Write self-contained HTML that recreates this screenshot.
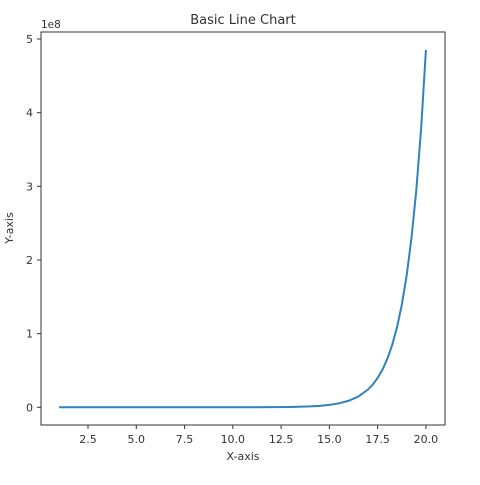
<!DOCTYPE html>
<html><head><meta charset="utf-8"><style>
body{margin:0;background:#fff;font-family:"Liberation Sans","DejaVu Sans",sans-serif}
text{font-family:"DejaVu Sans","Liberation Sans",sans-serif;fill:#333}
</style></head><body>
<svg width="480" height="480">
<text x="243" y="24" font-size="13" text-anchor="middle">Basic Line Chart</text>
<g id="ticks"></g>
<path id="line" fill="none" stroke="#2f82bf" stroke-width="2"/>
<rect x="41" y="32" width="404" height="393" fill="none" stroke="#333" stroke-width="1"/>
<text x="41" y="28" font-size="10.5">1e8</text>
<text x="243" y="460" font-size="11" text-anchor="middle">X-axis</text>
<text transform="translate(13,228) rotate(-90)" font-size="11" text-anchor="middle">Y-axis</text>
</svg>
<script>
const xValues=[1,2,3,4,5,6,7,8,9,10,11,12,13,14,14.5,15,15.5,16,16.5,17,17.25,17.5,17.75,18,18.25,18.5,18.75,19,19.25,19.5,19.75,20];
const yValues=[2.7,7.4,20,55,148,403,1097,2981,8103,22026,59874,162755,442413,1202604,1982759,3269017,5389698,8886111,14650719,24154953,31015351,39824784,51136310,65659969,84309104,108254988,139002155,178482301,229174159,294267566,377847541,485165195];
const xTicks=[2.5,5,7.5,10,12.5,15,17.5,20];
const xTickLabels=["2.5","5.0","7.5","10.0","12.5","15.0","17.5","20.0"];
const yTicks=[0,1,2,3,4,5];
const yTickLabels=["0","1","2","3","4","5"];
const sx=v=>88+(v-2.5)*19.31;
const sy=v=>407.3-v/1e8*73.66;
const NS="http://www.w3.org/2000/svg";
const g=document.getElementById('ticks');
xTicks.forEach((t,i)=>{
 const l=document.createElementNS(NS,'line');
 l.setAttribute('x1',sx(t));l.setAttribute('x2',sx(t));l.setAttribute('y1',425);l.setAttribute('y2',429);l.setAttribute('stroke','#333');
 
 
 g.appendChild(l);
 const tx=document.createElementNS(NS,'text');
 tx.setAttribute('x',sx(t));tx.setAttribute('y',443);tx.setAttribute('font-size','11');tx.setAttribute('text-anchor','middle');
 tx.textContent=xTickLabels[i];
 
 
 g.appendChild(tx);
});
yTicks.forEach((t,i)=>{
 const y=sy(t*1e8);
 const l=document.createElementNS(NS,'line');
 l.setAttribute('x1',37);l.setAttribute('x2',41);l.setAttribute('y1',y);l.setAttribute('y2',y);l.setAttribute('stroke','#333');
 
 
 g.appendChild(l);
 const tx=document.createElementNS(NS,'text');
 tx.setAttribute('x',33);tx.setAttribute('y',y+4);tx.setAttribute('font-size','11');tx.setAttribute('text-anchor','end');
 tx.textContent=yTickLabels[i];
 
 
 g.appendChild(tx);
});
document.getElementById('line').setAttribute('d',xValues.map((x,i)=>(i?'L':'M')+sx(x).toFixed(2)+','+sy(yValues[i]).toFixed(2)).join(''));
</script>
</body></html>
